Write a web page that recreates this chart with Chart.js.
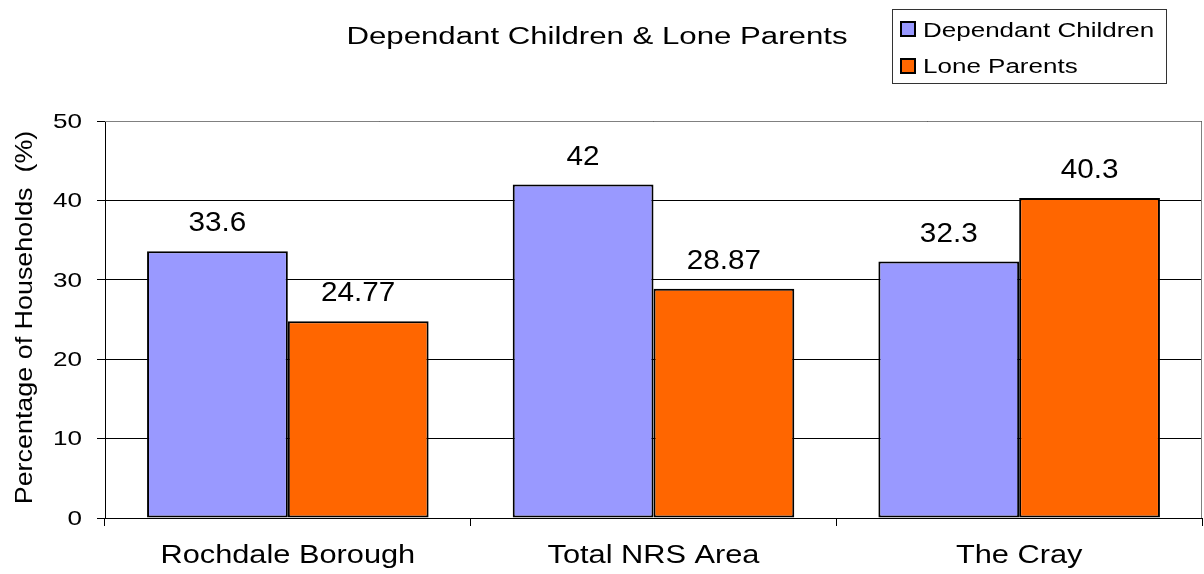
<!DOCTYPE html>
<html>
<head>
<meta charset="utf-8">
<script src="https://cdn.jsdelivr.net/npm/chart.js@4/dist/chart.umd.min.js"></script>
<style>
  html, body { margin: 0; padding: 0; background: #fff; }
  #wrap { width: 1204px; height: 574px; position: relative; }
</style>
</head>
<body>
<div id="wrap"><canvas id="c" width="1204" height="574"></canvas></div>
<script>
const chartTitle = 'Dependant Children & Lone Parents';
const areas = ['Rochdale Borough', 'Total NRS Area', 'The Cray'];
const dependantChildren = [33.6, 42, 32.3];
const loneParents = [24.77, 28.87, 40.3];
const dependantLabels = ['33.6', '42', '32.3'];
const loneLabels = ['24.77', '28.87', '40.3'];
const yTicks = [0, 10, 20, 30, 40, 50];
const yTitle = 'Percentage of Households  (%)';

const FONT = 'Arial, "Liberation Sans", sans-serif';

// Text drawn with a horizontal stretch (the chart's lettering is wide-set)
function wideText(ctx, text, x, y, size, sx, align, baseline, angle) {
  ctx.save();
  ctx.translate(x, y);
  if (angle) ctx.rotate(angle);
  ctx.scale(sx, 1);
  ctx.font = size + 'px ' + FONT;
  ctx.fillStyle = '#000';
  ctx.textAlign = align;
  ctx.textBaseline = baseline;
  ctx.fillText(text, 0, 0);
  ctx.restore();
}

const decorations = {
  id: 'decorations',
  beforeDatasetsDraw(chart) {
    const { ctx, chartArea: a } = chart;
    // grey frame along the top and right of the plot
    ctx.save();
    ctx.strokeStyle = '#808080';
    ctx.lineWidth = 1;
    ctx.beginPath();
    ctx.moveTo(a.left, a.top + 0.5);
    ctx.lineTo(a.right - 0.5, a.top + 0.5);
    ctx.lineTo(a.right - 0.5, a.bottom);
    ctx.stroke();
    ctx.restore();
  },
  afterDatasetsDraw(chart) {
    const { ctx, chartArea: a } = chart;
    // value labels above each bar
    chart.data.datasets.forEach((ds, di) => {
      chart.getDatasetMeta(di).data.forEach((bar, i) => {
        wideText(ctx, ds.valueLabels[i], bar.x, bar.y - 20, 27, 1.1, 'center', 'alphabetic');
      });
    });
    // y tick labels
    const ys = chart.scales.y;
    yTicks.forEach(v => {
      wideText(ctx, String(v), 82, ys.getPixelForValue(v) + 1, 21, 1.24, 'right', 'middle');
    });
    // category labels
    const xs = chart.scales.x;
    areas.forEach((name, i) => {
      wideText(ctx, name, xs.getPixelForValue(i), 563, 25, 1.23, 'center', 'alphabetic');
    });
    // y axis title
    wideText(ctx, yTitle, 32, (a.top + a.bottom) / 2 - 2, 24, 1.12, 'center', 'alphabetic', -Math.PI / 2);
  },
  afterDraw(chart) {
    const { ctx } = chart;
    // title
    wideText(ctx, chartTitle, 597, 44, 23, 1.356, 'center', 'alphabetic');
    // boxed legend
    ctx.save();
    ctx.strokeStyle = '#333';
    ctx.lineWidth = 1;
    ctx.strokeRect(892.5, 9.5, 274, 74);
    chart.data.datasets.forEach((ds, i) => {
      const top = 21 + i * 37;
      ctx.fillStyle = ds.backgroundColor;
      ctx.fillRect(900, top, 16, 16);
      ctx.lineWidth = 2;
      ctx.strokeStyle = '#000';
      ctx.strokeRect(901, top + 1, 14, 14);
      wideText(ctx, ds.label, 923, 37 + i * 36, 20, 1.3, 'left', 'alphabetic');
    });
    ctx.restore();
  }
};

new Chart(document.getElementById('c'), {
  type: 'bar',
  data: {
    labels: areas,
    datasets: [
      { label: 'Dependant Children', data: dependantChildren, valueLabels: dependantLabels,
        backgroundColor: '#9999FF', borderColor: '#000', borderWidth: 2 },
      { label: 'Lone Parents', data: loneParents, valueLabels: loneLabels,
        backgroundColor: '#FF6600', borderColor: '#000', borderWidth: 2 }
    ]
  },
  options: {
    responsive: false,
    animation: false,
    devicePixelRatio: 1,
    layout: { padding: { top: 121, right: 2, bottom: 0, left: 0 } },
    datasets: { bar: { categoryPercentage: 0.77, barPercentage: 1.0, borderSkipped: false } },
    plugins: { legend: { display: false }, title: { display: false }, tooltip: { enabled: false } },
    scales: {
      x: {
        grid: { drawOnChartArea: false, drawTicks: true, tickLength: 8, color: '#000' },
        border: { color: '#000', width: 1 },
        ticks: { display: false },
        afterFit(s) { s.height = 56; }
      },
      y: {
        min: 0, max: 50,
        afterBuildTicks(s) { s.ticks = yTicks.map(v => ({ value: v })); },
        grid: { color: '#000', tickLength: 8, drawTicks: true },
        border: { color: '#000', width: 1 },
        ticks: { display: false },
        title: { display: false },
        afterFit(s) { s.width = 105; }
      }
    }
  },
  plugins: [decorations]
});
</script>
</body>
</html>
